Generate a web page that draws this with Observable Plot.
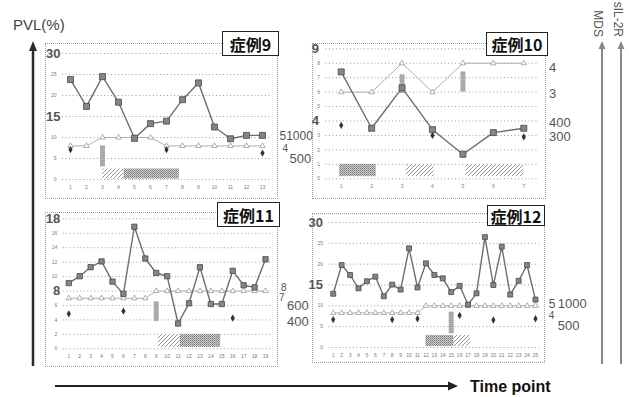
<!DOCTYPE html>
<html><head><meta charset="utf-8">
<script src="https://cdn.jsdelivr.net/npm/d3@7"></script>
<script src="https://cdn.jsdelivr.net/npm/@observablehq/plot@0.6"></script>
<style>
body{margin:0;background:#fff;}
#root{position:relative;width:629px;height:397px;overflow:hidden;background:#fff;font-family:"Liberation Sans",Arial,sans-serif;}
.box{position:absolute;border:1px dotted #9a9a9a;box-sizing:border-box;}
.title{position:absolute;background:#fff;border:1.5px solid #222;box-sizing:border-box;font-family:"Noto Sans CJK JP",sans-serif;font-weight:bold;font-size:16px;color:#111;display:flex;align-items:center;justify-content:center;line-height:1;}
#deco{position:absolute;left:0;top:0;}
</style></head><body><div id="root"></div>
<script>
// ---------- Case 9 ----------
const time9 = [1,2,3,4,5,6,7,8,9,10,11,12,13];
const pvl9 = [23.8,17.4,24.5,18.4,9.8,13.3,13.9,19.0,23.0,12.5,9.7,10.5,10.5];
const mds9 = [8,8,10,10,10,10,8,8,8,8,8,8,8];
const silTime9 = [1,7,13];
const sil9 = [7.1,7.1,6.3];
const marks9 = [[3,3.0,8.0]];
const periods9 = [{from:3.0,to:4.35,kind:"hatch"},{from:4.35,to:7.8,kind:"dots"}];
const band9 = [0.1,2.5];
const yTicks9 = [0,5,10,15,20,25,30];
const big9 = [30,15];
const right9 = [{text:"51000",y:10.3},{text:"4",y:7.2},{text:"500",y:5.0}];

// ---------- Case 10 ----------
const time10 = [1,2,3,4,5,6,7];
const pvl10 = [7.4,3.5,6.3,3.4,1.7,3.2,3.5];
const mds10 = [6,6,8,6,8,8,8];
const silTime10 = [1,4,7];
const sil10 = [3.7,3.0,2.9];
const marks10 = [[3,5.9,7.2],[5,6.0,7.4]];
const periods10 = [{from:0.95,to:2.15,kind:"dots"},{from:3.15,to:4.05,kind:"hatch"},{from:5.1,to:7.0,kind:"hatch"}];
const band10 = [0.15,1.0];
const yTicks10 = [0,1,2,3,4,5,6,7,8,9];
const big10 = [9,4];
const right10 = [{text:"4",y:7.7},{text:"3",y:5.9},{text:"400",y:3.9},{text:"300",y:2.9}];

// ---------- Case 11 ----------
const time11 = [1,2,3,4,5,6,7,8,9,10,11,12,13,14,15,16,17,18,19];
const pvl11 = [9.1,10.05,11.3,12.1,9.3,7.6,16.9,12.5,10.5,10.05,3.5,6.3,11.3,6.2,6.2,10.8,8.8,8.5,12.4];
const mds11 = [7,7,7,7,7,7,7,7,8,8,8,8,8,8,8,8,8,8,8];
const silTime11 = [1,6,16];
const sil11 = [4.85,5.2,4.25];
const marks11 = [[9,3.8,6.5]];
const periods11 = [{from:9.2,to:11.2,kind:"hatch"},{from:11.2,to:14.9,kind:"dots"}];
const band11 = [0.2,2.0];
const yTicks11 = [0,2,4,6,8,10,12,14,16,18];
const big11 = [18,8];
const right11 = [{text:"8",y:8.5},{text:"7",y:7.0},{text:"600",y:6.0},{text:"400",y:3.8}];

// ---------- Case 12 ----------
const time12 = [1,2,3,4,5,6,7,8,9,10,11,12,13,14,15,16,17,18,19,20,21,22,23,24,25];
const pvl12 = [12.9,19.8,17.4,14.2,15.9,17.0,12.3,15.1,13.9,23.8,14.4,20.2,17.4,16.6,13.3,14.8,10.3,13.0,26.5,15.0,24.2,12.7,16.0,19.8,11.5];
const mds12 = [8.3,8.3,8.3,8.3,8.3,8.3,8.3,8.3,8.3,8.3,8.3,10,10,10,10,10,10,10,10,10,10,10,10,10,10];
const silTime12 = [1,8,11,16,20,25];
const sil12 = [6.7,6.7,6.9,7.7,6.6,6.9];
const marks12 = [[15,3.3,8.5]];
const periods12 = [{from:12.0,to:15.3,kind:"dots"},{from:15.3,to:17.3,kind:"hatch"}];
const band12 = [0.2,2.9];
const yTicks12 = [0,5,10,15,20,25,30];
const big12 = [30,15];
const right12 = [{text:"5",y:10.4},{text:"1000",y:10.4},{text:"4",y:7.7},{text:"500",y:5.3}];

const W = 629, H = 397;
const root = document.getElementById("root");

// layout (pixels) for each panel
const panels = [
  {id:"c9", title:"症例9", time:time9, pvl:pvl9, mds:mds9, silTime:silTime9, sil:sil9, marks:marks9, periods:periods9, band:band9, yTicks:yTicks9, big:big9, right:right9,
   frame:[62,270,53,179], bigDx:-2, rightDx:[9,12,19], rightSize:[12,10,13], sq:3.4, box:[45,43,233,156], tbox:[222,31,57,25]},
  {id:"c10", title:"症例10", time:time10, pvl:pvl10, mds:mds10, silTime:silTime10, sil:sil10, marks:marks10, periods:periods10, band:band10, yTicks:yTicks10, big:big10, right:right10,
   frame:[325.5,538.5,48.3,178.3], bigDx:-7, rightDx:[10,10,10,10], rightSize:[13,13,13,13], sq:3.4, box:[312,43,234,156], tbox:[486,32,62,24]},
  {id:"c11", title:"症例11", time:time11, pvl:pvl11, mds:mds11, silTime:silTime11, sil:sil11, marks:marks11, periods:periods11, band:band11, yTicks:yTicks11, big:big11, right:right11,
   frame:[62.8,270.5,218.3,348.3], bigDx:-3, rightDx:[10,8,16,16], rightSize:[10,10,13,13], sq:3.0, box:[45,212,233,155], tbox:[217,202,63,25]},
  {id:"c12", title:"症例12", time:time12, pvl:pvl12, mds:mds12, silTime:silTime12, sil:sil12, marks:marks12, periods:periods12, band:band12, yTicks:yTicks12, big:big12, right:right12,
   frame:[328.5,539.2,222,347], bigDx:-6, rightDx:[9,18,9,18], rightSize:[12,13,10,13], sq:2.8, box:[312,213,233,150], tbox:[487,205,58,21]}
];

function addDefs(svg, id) {
  const defs = d3.select(svg).insert("defs", ":first-child");
  const h = defs.append("pattern").attr("id", `hatch-${id}`).attr("patternUnits","userSpaceOnUse").attr("width",4).attr("height",4);
  h.append("rect").attr("width",4).attr("height",4).attr("fill","#fff");
  h.append("path").attr("d","M-1,1 l2,-2 M0,4 l4,-4 M3,5 l2,-2").attr("stroke","#8a8a8a").attr("stroke-width",0.9);
  const p = defs.append("pattern").attr("id", `dots-${id}`).attr("patternUnits","userSpaceOnUse").attr("width",2).attr("height",2);
  p.append("rect").attr("width",2).attr("height",2).attr("fill","#cfcfcf");
  p.append("rect").attr("width",1).attr("height",1).attr("fill","#777");
  p.append("rect").attr("x",1).attr("y",1).attr("width",1).attr("height",1).attr("fill","#959595");
}

for (const c of panels) {
  const b = document.createElement("div");
  b.className = "box";
  Object.assign(b.style, {left:c.box[0]+"px", top:c.box[1]+"px", width:c.box[2]+"px", height:c.box[3]+"px"});
  root.appendChild(b);
}

for (const c of panels) {
  const [fl, fr, ft, fb] = c.frame;
  const n = c.time.length;
  const yMax = c.yTicks[c.yTicks.length - 1];
  const svg = Plot.plot({
    width: W, height: H,
    marginLeft: fl, marginRight: W - fr, marginTop: ft, marginBottom: H - fb,
    x: {domain: [0.5, n + 0.5]},
    y: {domain: [0, yMax]},
    style: "background:none;position:absolute;left:0;top:0;overflow:visible;font-family:'Liberation Sans',Arial,sans-serif;",
    marks: [
      Plot.gridY(c.yTicks, {stroke: "#8c8c8c", strokeOpacity: 0.85, strokeDasharray: "1,2.5"}),
      Plot.axisY(c.yTicks.filter(v => !c.big.includes(v)), {tickSize: 0, tickPadding: 6, fontSize: 5, fill: "#7a7a7a", label: null}),
      Plot.text(c.big, {y: d => d, text: d => String(d), frameAnchor: "left", textAnchor: "end", dx: c.bigDx, fontSize: 13, fontWeight: "bold", fill: "#555"}),
      Plot.axisX(c.time, {tickSize: 0, tickPadding: 6, fontSize: 5, fill: "#7a7a7a", label: null}),
      Plot.rect(c.periods.filter(p => p.kind === "hatch"), {x1: "from", x2: "to", y1: c.band[0], y2: c.band[1], fill: `url(#hatch-${c.id})`}),
      Plot.rect(c.periods.filter(p => p.kind === "dots"), {x1: "from", x2: "to", y1: c.band[0], y2: c.band[1], fill: `url(#dots-${c.id})`}),
      Plot.ruleX(c.marks, {x: d => d[0], y1: d => d[1], y2: d => d[2], stroke: `url(#dots-${c.id})`, strokeWidth: 5}),
      Plot.line(c.mds, {x: c.time, y: c.mds, stroke: "#b0b0b0", strokeWidth: 1}),
      Plot.dot(c.mds, {x: c.time, y: c.mds, symbol: "triangle", r: 2, stroke: "#9a9a9a", fill: "#fff", strokeWidth: 0.8}),
      Plot.line(c.pvl, {x: c.time, y: c.pvl, stroke: "#6e6e6e", strokeWidth: 1.4}),
      Plot.dot(c.pvl, {x: c.time, y: c.pvl, symbol: "square", r: c.sq, fill: "#858585", stroke: "#4a4a4a", strokeWidth: 0.8}),
      Plot.dot(c.sil, {x: c.silTime, y: c.sil, symbol: "diamond", r: 2.2, fill: "#333"}),
      ...c.right.map((d, i) => Plot.text([d], {y: "y", text: "text", frameAnchor: "right", textAnchor: "start", dx: c.rightDx[i], fontSize: c.rightSize[i], fill: "#555"}))
    ]
  });
  addDefs(svg, c.id);
  root.appendChild(svg);
}

for (const c of panels) {
  const t = document.createElement("div");
  t.className = "title";
  t.textContent = c.title;
  Object.assign(t.style, {left:c.tbox[0]+"px", top:c.tbox[1]+"px", width:c.tbox[2]+"px", height:c.tbox[3]+"px"});
  root.appendChild(t);
}

root.insertAdjacentHTML("beforeend", `
<svg id="deco" width="629" height="397" font-family="Liberation Sans, Arial, sans-serif">
  <text x="13" y="30" font-size="15" fill="#444">PVL(%)</text>
  <line x1="33" y1="366" x2="33" y2="50" stroke="#2a2a2a" stroke-width="2.5"/>
  <path d="M33,41 L29,51 L37,51 Z" fill="#2a2a2a"/>
  <line x1="602" y1="364" x2="602" y2="48" stroke="#888" stroke-width="2"/>
  <path d="M602,41 L598.5,49 L605.5,49 Z" fill="#888"/>
  <line x1="621" y1="364" x2="621" y2="48" stroke="#888" stroke-width="2"/>
  <path d="M621,41 L617.5,49 L624.5,49 Z" fill="#888"/>
  <text transform="translate(594,37) rotate(90)" text-anchor="end" font-size="12" fill="#555">MDS</text>
  <text transform="translate(614,37) rotate(90)" text-anchor="end" font-size="12" fill="#555">sIL-2R</text>
  <line x1="55" y1="386" x2="449" y2="386" stroke="#222" stroke-width="2"/>
  <path d="M458,386 L448,381.5 L448,390.5 Z" fill="#222"/>
  <text x="470" y="392" font-size="16" font-weight="bold" fill="#111">Time point</text>
</svg>`);
</script></body></html>
